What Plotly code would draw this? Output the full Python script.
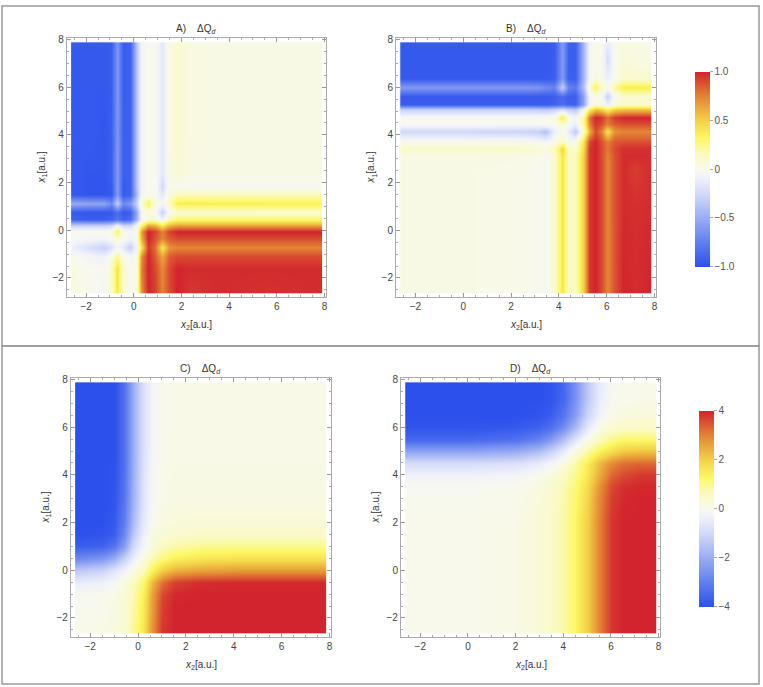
import numpy as np
import plotly.graph_objects as go

# ---- panel A : grid (rows = x1, cols = x2) ----
A_X2 = [-2.6, -1.9, -1.25, -0.95, -0.7, -0.45, -0.15, 0.1, 0.3, 0.6, 0.9, 1.2, 1.5, 1.8, 2.3, 3.5, 5.5, 7.85]
A_X1 = [-2.6, -1.6, -1.1, -0.7, -0.35, -0.05, 0.2, 0.45, 0.75, 1.15, 1.5, 1.85, 2.4, 4, 6, 7.85]
A_Q = [
    [0.05, 0.0, -0.05, 0.12, 0.42, 0.1, 0.0, 0.02, 0.7, 1.0, 0.92, 0.75, 0.9, 1.0, 0.95, 0.98, 0.97, 0.98],
    [0.03, 0.0, -0.02, 0.12, 0.44, 0.1, 0.0, 0.02, 0.75, 1.0, 0.9, 0.72, 0.9, 1.0, 0.98, 0.98, 0.98, 0.98],
    [0.0, -0.05, -0.08, 0.05, 0.25, 0.03, -0.03, 0.0, 0.7, 1.0, 0.85, 0.65, 0.85, 0.9, 0.9, 0.9, 0.9, 0.9],
    [-0.1, -0.2, -0.3, -0.2, -0.05, -0.15, -0.3, -0.05, 0.4, 0.95, 0.8, 0.4, 0.7, 0.74, 0.74, 0.74, 0.74, 0.74],
    [0.0, -0.05, -0.05, 0.0, 0.1, 0.0, -0.08, 0.0, 0.6, 1.0, 0.88, 0.75, 0.86, 0.9, 0.9, 0.9, 0.9, 0.9],
    [0.0, 0.0, 0.0, 0.05, 0.35, 0.05, -0.05, 0.0, 0.65, 1.0, 0.92, 0.75, 0.92, 1.0, 1.0, 1.0, 1.0, 1.0],
    [-0.3, -0.3, -0.3, -0.25, -0.08, -0.25, -0.25, -0.05, 0.3, 0.65, 0.6, 0.4, 0.6, 0.65, 0.65, 0.65, 0.65, 0.65],
    [-0.9, -0.92, -0.92, -0.9, -0.8, -0.9, -0.85, -0.5, -0.05, 0.1, 0.08, -0.05, 0.2, 0.3, 0.3, 0.3, 0.3, 0.3],
    [-0.95, -0.97, -0.97, -0.95, -0.85, -0.95, -0.92, -0.55, -0.05, 0.05, 0.0, -0.3, 0.0, 0.1, 0.1, 0.1, 0.1, 0.1],
    [-0.5, -0.55, -0.55, -0.7, -0.3, -0.7, -0.6, -0.3, 0.1, 0.35, 0.05, -0.05, 0.15, 0.38, 0.38, 0.37, 0.36, 0.36],
    [-0.95, -0.97, -0.97, -0.95, -0.6, -0.95, -0.9, -0.45, -0.05, 0.0, 0.0, -0.15, 0.08, 0.16, 0.16, 0.16, 0.16, 0.16],
    [-0.95, -0.97, -0.97, -0.95, -0.6, -0.95, -0.9, -0.4, -0.05, 0.0, 0.0, -0.25, 0.03, 0.0, -0.02, -0.02, -0.02, -0.02],
    [-0.95, -0.97, -0.97, -0.92, -0.6, -0.92, -0.9, -0.4, -0.05, 0.0, 0.0, -0.15, 0.03, 0.08, 0.04, 0.03, 0.03, 0.03],
    [-0.95, -0.95, -0.97, -0.92, -0.62, -0.92, -0.9, -0.4, -0.05, 0.0, 0.0, -0.15, 0.04, 0.1, 0.05, 0.03, 0.03, 0.03],
    [-0.96, -0.96, -0.96, -0.93, -0.62, -0.93, -0.9, -0.4, -0.05, 0.0, 0.0, -0.15, 0.04, 0.1, 0.05, 0.03, 0.03, 0.03],
    [-0.96, -0.96, -0.96, -0.93, -0.62, -0.93, -0.9, -0.4, -0.05, 0.0, 0.0, -0.15, 0.04, 0.1, 0.05, 0.03, 0.03, 0.03],
]

# ---- panel B ----
B_X2 = [-2.6, 0, 2.5, 3.1, 3.45, 3.8, 4.13, 4.4, 4.7, 5.0, 5.25, 5.5, 5.75, 6.02, 6.3, 6.7, 7.2, 7.85]
B_X1 = [-2.6, 1, 2.6, 3.1, 3.45, 3.75, 4.15, 4.45, 4.75, 5.05, 5.3, 5.6, 6.0, 6.35, 7.2, 7.85]
B_Q = [
    [0.03, 0.03, 0.02, 0.0, -0.03, 0.1, 0.42, 0.14, 0.15, 0.5, 0.95, 1.0, 0.9, 0.74, 0.88, 1.0, 0.98, 1.0],
    [0.03, 0.03, 0.02, 0.0, -0.03, 0.1, 0.42, 0.14, 0.15, 0.5, 0.95, 1.0, 0.9, 0.74, 0.88, 0.98, 0.97, 0.98],
    [0.03, 0.03, 0.02, 0.0, -0.03, 0.1, 0.42, 0.14, 0.15, 0.5, 0.95, 1.0, 0.9, 0.74, 0.88, 0.98, 0.93, 0.98],
    [0.04, 0.04, 0.03, 0.02, -0.02, 0.1, 0.42, 0.14, 0.15, 0.5, 0.95, 1.0, 0.9, 0.74, 0.88, 0.98, 0.98, 0.98],
    [0.12, 0.12, 0.12, 0.1, 0.05, 0.15, 0.48, 0.15, 0.1, 0.45, 0.95, 1.0, 0.9, 0.78, 0.9, 0.97, 0.97, 0.97],
    [0.0, 0.0, 0.0, -0.03, -0.05, 0.0, 0.15, 0.0, 0.0, 0.4, 0.9, 1.0, 0.88, 0.75, 0.86, 0.88, 0.88, 0.88],
    [-0.25, -0.25, -0.28, -0.3, -0.4, -0.1, 0.0, -0.1, -0.35, 0.1, 0.6, 0.9, 0.75, 0.4, 0.7, 0.74, 0.74, 0.74],
    [-0.02, -0.02, -0.02, -0.02, 0.0, 0.0, 0.1, 0.0, -0.1, 0.2, 0.75, 0.95, 0.88, 0.75, 0.84, 0.88, 0.88, 0.88],
    [0.0, 0.0, 0.0, 0.0, 0.0, 0.05, 0.38, 0.05, -0.05, 0.2, 0.8, 1.0, 0.95, 0.8, 0.95, 1.0, 1.0, 1.0],
    [-0.3, -0.3, -0.3, -0.32, -0.35, -0.3, -0.2, -0.3, -0.35, -0.05, 0.35, 0.55, 0.5, 0.35, 0.5, 0.55, 0.55, 0.55],
    [-0.93, -0.93, -0.93, -0.93, -0.93, -0.9, -0.85, -0.9, -0.9, -0.55, -0.05, 0.05, 0.05, -0.1, 0.05, 0.12, 0.12, 0.12],
    [-0.95, -0.95, -0.95, -0.95, -0.95, -0.92, -0.85, -0.92, -0.92, -0.55, -0.05, 0.0, 0.0, -0.3, 0.0, 0.1, 0.1, 0.1],
    [-0.6, -0.6, -0.6, -0.62, -0.68, -0.72, -0.3, -0.72, -0.78, -0.4, 0.1, 0.35, 0.15, 0.0, 0.2, 0.38, 0.38, 0.36],
    [-0.95, -0.95, -0.95, -0.95, -0.95, -0.92, -0.6, -0.92, -0.92, -0.45, -0.05, 0.05, 0.0, -0.1, 0.0, 0.12, 0.1, 0.1],
    [-0.96, -0.96, -0.96, -0.96, -0.95, -0.93, -0.6, -0.92, -0.92, -0.45, -0.05, 0.02, 0.0, -0.22, 0.0, 0.06, 0.04, 0.02],
    [-0.96, -0.96, -0.96, -0.96, -0.95, -0.93, -0.6, -0.92, -0.92, -0.45, -0.05, 0.02, 0.0, -0.12, 0.0, 0.06, 0.04, 0.02],
]

# ---- panel C ----
C_X2 = [-2.6, -1.5, -1.0, -0.6, -0.2, 0.2, 0.6, 1.0, 1.5, 2.5, 4, 6, 7.85]
C_X1 = [-2.6, -1.5, -1.0, -0.5, 0.0, 0.5, 1.0, 1.5, 2.0, 3.0, 5, 7.85]
C_Q = [
    [0.05, 0.1, 0.2, 0.4, 0.9, 1.6, 2.8, 3.8, 4, 4, 4, 4, 4],
    [0.0, 0.05, 0.15, 0.35, 0.8, 1.5, 2.7, 3.7, 4, 4, 4, 4, 4],
    [-0.1, 0.0, 0.1, 0.3, 0.7, 1.4, 2.6, 3.6, 3.95, 4, 4, 4, 4],
    [-0.5, -0.35, -0.1, 0.2, 0.6, 1.2, 2.3, 3.2, 3.7, 3.9, 3.95, 3.95, 3.95],
    [-1.4, -1.1, -0.7, -0.3, 0.1, 0.6, 1.4, 2.0, 2.4, 2.6, 2.7, 2.7, 2.7],
    [-2.8, -2.5, -2.0, -1.2, -0.4, 0.2, 0.7, 1.1, 1.4, 1.6, 1.7, 1.7, 1.7],
    [-3.7, -3.6, -3.2, -2.3, -1.0, -0.2, 0.3, 0.6, 0.8, 0.95, 1.0, 1.0, 1.0],
    [-4, -3.9, -3.7, -2.8, -1.4, -0.4, 0.1, 0.3, 0.4, 0.5, 0.5, 0.5, 0.5],
    [-4, -4, -3.8, -3.0, -1.7, -0.6, 0.0, 0.2, 0.25, 0.3, 0.3, 0.3, 0.3],
    [-4, -4, -3.9, -3.2, -1.9, -0.7, -0.1, 0.1, 0.15, 0.15, 0.15, 0.15, 0.15],
    [-4, -4, -4, -3.3, -2.0, -0.8, -0.2, 0.05, 0.1, 0.1, 0.1, 0.1, 0.1],
    [-4, -4, -4, -3.3, -2.0, -0.8, -0.2, 0.05, 0.08, 0.1, 0.1, 0.1, 0.1],
]

# ---- panel D ----
D_X2 = [-2.6, 0, 2, 3, 3.5, 4, 4.5, 5, 5.5, 6, 6.5, 7.2, 7.85]
D_X1 = [-2.6, 0, 2, 3, 3.5, 4, 4.5, 5, 5.5, 6, 6.5, 7.2, 7.85]
D_Q = [
    [0.05, 0.05, 0.1, 0.3, 0.5, 0.8, 1.3, 2.0, 3.0, 3.8, 4, 4, 4],
    [0.05, 0.05, 0.1, 0.3, 0.5, 0.8, 1.3, 2.0, 3.0, 3.8, 4, 4, 4],
    [0.03, 0.05, 0.1, 0.3, 0.5, 0.8, 1.3, 2.0, 3.0, 3.8, 4, 4, 4],
    [0.0, 0.0, 0.05, 0.25, 0.45, 0.75, 1.2, 1.9, 2.9, 3.7, 3.95, 4, 4],
    [-0.05, -0.05, 0.0, 0.2, 0.4, 0.7, 1.15, 1.8, 2.8, 3.6, 3.9, 3.95, 3.95],
    [-0.3, -0.3, -0.2, 0.0, 0.25, 0.55, 1.0, 1.6, 2.5, 3.3, 3.6, 3.8, 3.8],
    [-0.9, -0.9, -0.8, -0.5, -0.2, 0.2, 0.8, 1.5, 2.3, 2.9, 3.2, 3.3, 3.3],
    [-2.2, -2.2, -2.0, -1.6, -1.1, -0.5, 0.2, 0.8, 1.4, 1.8, 2.1, 2.2, 2.2],
    [-3.5, -3.5, -3.3, -2.9, -2.4, -1.6, -0.7, 0.1, 0.6, 1.0, 1.2, 1.2, 1.2],
    [-3.9, -3.9, -3.8, -3.6, -3.3, -2.7, -1.7, -0.6, 0.1, 0.4, 0.5, 0.5, 0.5],
    [-4, -4, -4, -3.9, -3.7, -3.2, -2.3, -1.1, -0.3, 0.1, 0.2, 0.25, 0.25],
    [-4, -4, -4, -4, -3.9, -3.5, -2.6, -1.4, -0.5, -0.05, 0.05, 0.08, 0.1],
    [-4, -4, -4, -4, -3.9, -3.5, -2.6, -1.4, -0.5, -0.1, 0.0, 0.03, 0.05],
]

TICKS = [-2, 0, 2, 4, 6, 8]
CB1_TICKS = [-1, -0.5, 0, 0.5, 1]
CB1_TEXT = ["\u22121.0", "\u22120.5", "0", "0.5", "1.0"]
CB2_TICKS = [-4, -2, 0, 2, 4]
CB2_TEXT = ["\u22124", "\u22122", "0", "2", "4"]

W, H = 763, 687
FONT = "Liberation Sans, Arial, sans-serif"

scale = [
    [0.00, "rgb(44,80,236)"],
    [0.12, "rgb(95,125,240)"],
    [0.25, "rgb(155,172,243)"],
    [0.37, "rgb(208,216,248)"],
    [0.46, "rgb(240,242,250)"],
    [0.50, "rgb(248,249,238)"],
    [0.58, "rgb(250,250,190)"],
    [0.66, "rgb(252,248,100)"],
    [0.75, "rgb(243,210,70)"],
    [0.87, "rgb(228,135,52)"],
    [1.00, "rgb(210,36,46)"],
]


def px(v):
    return v / W


def py(v):
    return 1 - v / H


def edge_pad(xs, ys, z):
    # tiny edge copies so the smoothed image stops at the data limits
    xs = [xs[0] - 0.02] + list(xs) + [xs[-1] + 0.02]
    ys = [ys[0] - 0.02] + list(ys) + [ys[-1] + 0.02]
    return xs, ys, np.pad(np.array(z, dtype=float), 1, mode="edge")


# pixel boxes of the four frames: (left, right, top, bottom)
frames = {
    "A": (67, 327, 34, 295),
    "B": (397, 658, 34, 295),
    "C": (71, 332, 376, 637),
    "D": (402, 662, 376, 637),
}
panels = [("A", A_X2, A_X1, A_Q, "coloraxis"),
          ("B", B_X2, B_X1, B_Q, "coloraxis"),
          ("C", C_X2, C_X1, C_Q, "coloraxis2"),
          ("D", D_X2, D_X1, D_Q, "coloraxis2")]

fig = go.Figure()
layout_axes = {}
annotations = []
label_font = dict(family=FONT, size=10, color="#333")
for i, (name, xs, ys, z, cax) in enumerate(panels):
    n = "" if i == 0 else str(i + 1)
    xp, yp, zp = edge_pad(xs, ys, z)
    fig.add_trace(go.Heatmap(x=xp, y=yp, z=zp, zsmooth="best", coloraxis=cax,
                             xaxis="x" + n, yaxis="y" + n, hoverinfo="skip"))
    l, r, t, b = frames[name]
    common = dict(range=[-2.81, 8.07], tickvals=TICKS, ticks="inside", ticklen=4,
                  tickcolor="#999", showline=True, linecolor="#aaa", linewidth=1,
                  mirror="ticks", showgrid=False, zeroline=False,
                  minor=dict(dtick=0.5, ticks="inside", ticklen=2, tickcolor="#aaa"),
                  tickfont=dict(family=FONT, size=10, color="#444"))
    layout_axes["xaxis" + n] = dict(common, domain=[px(l), px(r)], anchor="y" + n)
    layout_axes["yaxis" + n] = dict(common, domain=[py(b), py(t)], anchor="x" + n)
    cx = (l + r) / 2
    annotations.append(dict(text=name + ")\u00a0\u00a0\u00a0 \u0394Q<sub><i>d</i></sub>",
                            x=px(cx), y=py(t - 9), font=label_font))
    annotations.append(dict(text="<i>x</i><sub>2</sub>[a.u.]", x=px(cx), y=py(b + 28),
                            font=label_font))
    annotations.append(dict(text="<i>x</i><sub>1</sub>[a.u.]", x=px(l - 25), y=py((t + b) / 2),
                            textangle=-90, font=label_font))
for a in annotations:
    a.update(xref="paper", yref="paper", showarrow=False, xanchor="center", yanchor="middle")

cbar = dict(thickness=15, thicknessmode="pixels", lenmode="fraction", outlinewidth=0,
            ticks="outside", ticklen=3, tickcolor="#aaa", xanchor="left",
            tickfont=dict(family=FONT, size=10, color="#555"))

fig.update_layout(
    width=W, height=H,
    margin=dict(l=0, r=0, t=0, b=0),
    paper_bgcolor="white", plot_bgcolor="white",
    showlegend=False,
    coloraxis=dict(cmin=-1, cmax=1, colorscale=scale,
                   colorbar=dict(cbar, x=px(687), y=py(166), len=216 / H,
                                 tickvals=CB1_TICKS, ticktext=CB1_TEXT)),
    coloraxis2=dict(cmin=-4, cmax=4, colorscale=scale,
                    colorbar=dict(cbar, x=px(691), y=py(507.5), len=217 / H,
                                  tickvals=CB2_TICKS, ticktext=CB2_TEXT)),
    annotations=annotations,
    shapes=[
        dict(type="rect", xref="paper", yref="paper", x0=px(2), x1=px(761), y0=py(344), y1=py(2),
             line=dict(color="#999", width=1.5)),
        dict(type="rect", xref="paper", yref="paper", x0=px(2), x1=px(761), y0=py(684), y1=py(344),
             line=dict(color="#999", width=1.5)),
    ],
    **layout_axes,
)

# the page keeps the browser's default 8px body margin otherwise
fig.write_html("out.html", config={"displayModeBar": False},
               post_script="document.body.style.margin='0';")
